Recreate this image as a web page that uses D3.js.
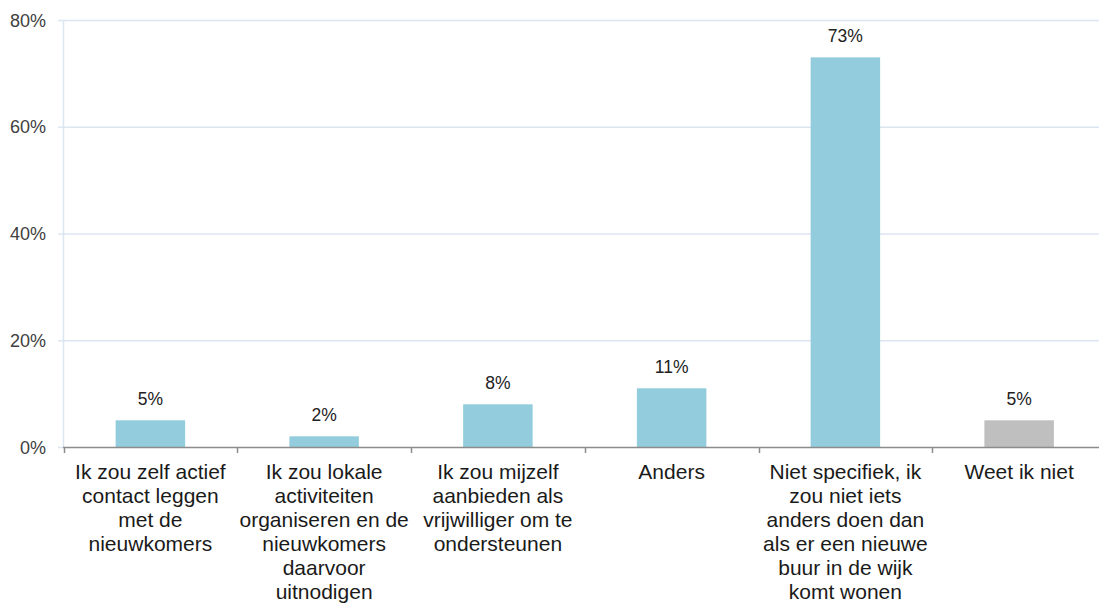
<!DOCTYPE html>
<html>
<head>
<meta charset="utf-8">
<script src="https://cdn.jsdelivr.net/npm/d3@7.9.0/dist/d3.min.js"></script>
<style>
  body { margin: 0; background: #fff; }
  svg { display: block; font-family: "Liberation Sans", Arial, sans-serif; }
</style>
</head>
<body>
<svg id="chart" width="1099" height="603"></svg>
<script>
// data
const categories = [
    ['Ik zou zelf actief', 'contact leggen', 'met de', 'nieuwkomers'],
    ['Ik zou lokale', 'activiteiten', 'organiseren en de', 'nieuwkomers', 'daarvoor', 'uitnodigen'],
    ['Ik zou mijzelf', 'aanbieden als', 'vrijwilliger om te', 'ondersteunen'],
    ['Anders'],
    ['Niet specifiek, ik', 'zou niet iets', 'anders doen dan', 'als er een nieuwe', 'buur in de wijk', 'komt wonen'],
    ['Weet ik niet']
];
const values = [5, 2, 8, 11, 73, 5];
const barColors = ['#93cddd', '#93cddd', '#93cddd', '#93cddd', '#93cddd', '#bfbfbf'];
const yTicks = [0, 20, 40, 60, 80];

const svg = d3.select('#chart');
// the plot runs a bit past the right edge of the picture
const plotLeft = 63.5, plotRight = 1106, plotTop = 20, plotBottom = 447;

const x = d3.scaleBand()
    .domain(d3.range(categories.length))
    .range([plotLeft, plotRight])
    .paddingInner(0.6)
    .paddingOuter(0.3);

// band boundaries for ticks
const step = (plotRight - plotLeft) / categories.length;

const y = d3.scaleLinear().domain([0, 80]).range([plotBottom, plotTop]);

// gridlines
svg.append('g')
    .selectAll('line')
    .data(yTicks.filter(d => d > 0))
    .join('line')
    .attr('x1', 58)
    .attr('x2', plotRight)
    .attr('y1', d => y(d) + 0.5)
    .attr('y2', d => y(d) + 0.5)
    .attr('stroke', '#dce6f2')
    .attr('stroke-width', 1.5);

// y axis line
svg.append('line')
    .attr('x1', 63.5).attr('x2', 63.5)
    .attr('y1', plotTop).attr('y2', plotBottom)
    .attr('stroke', '#dce6f2')
    .attr('stroke-width', 1.5);

svg.append('line')
    .attr('x1', 58).attr('x2', 63)
    .attr('y1', plotBottom + 0.5).attr('y2', plotBottom + 0.5)
    .attr('stroke', '#dce6f2')
    .attr('stroke-width', 1.5);

// y tick labels
svg.append('g')
    .selectAll('text')
    .data(yTicks)
    .join('text')
    .attr('x', 46)
    .attr('y', d => y(d) + 6.5)
    .attr('text-anchor', 'end')
    .attr('font-size', 18)
    .attr('fill', '#404040')
    .text(d => d + '%');

// bars
svg.append('g')
    .selectAll('rect')
    .data(values)
    .join('rect')
    .attr('x', (d, i) => x(i))
    .attr('y', d => y(d))
    .attr('width', x.bandwidth())
    .attr('height', d => plotBottom - y(d))
    .attr('fill', (d, i) => barColors[i]);

// value labels
svg.append('g')
    .selectAll('text')
    .data(values)
    .join('text')
    .attr('x', (d, i) => x(i) + x.bandwidth() / 2)
    .attr('y', d => y(d) - 15.5)
    .attr('text-anchor', 'middle')
    .attr('font-size', 17.5)
    .attr('fill', '#222')
    .text(d => d + '%');

// x axis
svg.append('line')
    .attr('x1', 63).attr('x2', plotRight)
    .attr('y1', plotBottom + 0.5).attr('y2', plotBottom + 0.5)
    .attr('stroke', '#8c8c8c')
    .attr('stroke-width', 1.5);

svg.append('g')
    .selectAll('line')
    .data(d3.range(categories.length + 1))
    .join('line')
    .attr('x1', i => Math.round(plotLeft + i * step) + 0.5)
    .attr('x2', i => Math.round(plotLeft + i * step) + 0.5)
    .attr('y1', plotBottom)
    .attr('y2', plotBottom + 6)
    .attr('stroke', '#8c8c8c')
    .attr('stroke-width', 1.5);

// category labels
const labels = svg.append('g')
    .selectAll('text')
    .data(categories)
    .join('text')
    .attr('x', (d, i) => x(i) + x.bandwidth() / 2)
    .attr('y', 479)
    .attr('text-anchor', 'middle')
    .attr('font-size', 21)
    .attr('fill', '#1a1a1a');

labels.each(function(lines) {
    const t = d3.select(this);
    const cx = t.attr('x');
    lines.forEach((line, k) => {
        t.append('tspan')
            .attr('x', cx)
            .attr('dy', k === 0 ? 0 : 24)
            .text(line);
    });
});
</script>
</body>
</html>
